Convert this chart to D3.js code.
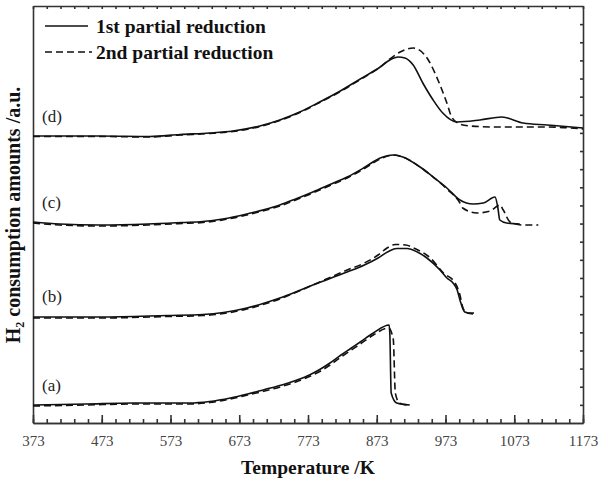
<!DOCTYPE html>
<html lang="en">
<head>
<meta charset="UTF-8">
<title>TPR</title>
<script src="https://d3js.org/d3.v7.min.js"></script>
<style>
    * { margin: 0; padding: 0; }
    body { background: #fff; }
    .axis path, .axis line { stroke: #333; stroke-width: 1.6px; }
    .axis text { font: 15px "Liberation Serif", "Times New Roman", serif; fill: #444; }
    .curve { fill: none; stroke: #111; stroke-width: 1.6px; }
    .dash { stroke-dasharray: 7, 4; }
</style>
</head>
<body>
<script>
    // temperature ticks (K)
    var majorTicks = [373, 473, 573, 673, 773, 873, 973, 1073, 1173];
    var minorTicks = d3.range(373, 1174, 20);

    // [T /K, signal /a.u.]
    var aFirst = [[373, 1.8], [450, 1.9], [518, 2.0], [600, 2.0], [630, 2.15], [660, 2.5], [685, 2.9], [710, 3.35],
        [735, 3.8], [757, 4.3], [775, 4.8], [790, 5.35], [805, 6.0], [820, 6.75], [835, 7.45], [849, 8.1], [868, 9.0],
        [891, 9.8], [892, 9.0], [894, 3.0], [902, 2.0], [921, 1.8]];
    var aSecond = [[373, 1.7], [450, 1.8], [518, 1.9], [600, 1.9], [630, 2.05], [660, 2.4], [685, 2.8], [710, 3.2],
        [735, 3.65], [757, 4.15], [775, 4.65], [790, 5.15], [805, 5.8], [820, 6.55], [835, 7.25], [849, 7.9], [868, 8.8],
        [890, 9.5], [897, 8.4], [900, 3.0], [906, 2.0], [918, 1.8]];

    var bFirst = [[373, 10.6], [470, 10.6], [568, 10.75], [620, 10.85], [650, 11.05], [684, 11.5], [710, 12.0],
        [732, 12.5], [755, 13.1], [780, 13.8], [805, 14.45], [830, 15.1], [855, 15.8], [875, 16.5], [890, 17.15],
        [902, 17.45], [917, 17.45], [932, 17.1], [946, 16.5], [965, 15.3], [975, 14.5], [984, 14.0], [990, 13.3],
        [994, 12.3], [1001, 11.1], [1013, 10.9]];
    var bSecond = [[373, 10.5], [470, 10.5], [568, 10.65], [620, 10.75], [650, 10.95], [684, 11.4], [710, 11.9],
        [732, 12.4], [755, 13.05], [780, 13.8], [805, 14.55], [830, 15.3], [855, 16.0], [875, 16.8], [888, 17.5],
        [900, 17.85], [915, 17.8], [930, 17.4], [951, 16.5], [970, 15.0], [987, 14.0], [994, 12.8], [998, 11.6],
        [1004, 11.0], [1017, 11.0]];

    var cFirst = [[373, 20.1], [412, 19.9], [470, 19.8], [540, 19.9], [590, 20.05], [620, 20.15], [649, 20.4],
        [684, 20.9], [710, 21.35], [732, 21.8], [755, 22.4], [780, 23.1], [805, 23.85], [830, 24.6], [855, 25.55],
        [878, 26.5], [897, 26.8], [911, 26.6], [936, 25.6], [955, 24.6], [975, 23.5], [994, 22.3], [1013, 21.9],
        [1028, 22.0], [1045, 22.6], [1049, 21.6], [1052, 20.3], [1062, 20.0], [1081, 19.9]];
    var cSecond = [[373, 20.0], [412, 19.8], [470, 19.7], [540, 19.8], [590, 19.95], [620, 20.05], [649, 20.3],
        [684, 20.8], [710, 21.25], [732, 21.7], [755, 22.3], [780, 23.0], [805, 23.75], [830, 24.5], [855, 25.45],
        [878, 26.4], [897, 26.8], [911, 26.6], [936, 25.6], [955, 24.6], [975, 23.4], [994, 22.0], [998, 21.5],
        [1019, 21.0], [1038, 21.2], [1052, 21.8], [1057, 21.3], [1067, 20.1], [1086, 19.8], [1108, 19.8]];

    var dFirst = [[373, 28.7], [470, 28.7], [543, 28.65], [587, 28.85], [630, 29.0], [664, 29.2], [703, 29.7], [732, 30.3],
        [761, 31.1], [790, 32.1], [820, 33.2], [849, 34.4], [878, 35.6], [892, 36.3], [904, 36.6], [914, 36.5],
        [926, 35.8], [940, 34.0], [955, 32.3], [969, 31.0], [990, 30.1], [1023, 30.3], [1055, 30.6], [1086, 30.0],
        [1121, 29.8], [1173, 29.5]];
    var dSecond = [[373, 28.65], [470, 28.65], [543, 28.6], [587, 28.8], [630, 28.95], [664, 29.15], [703, 29.65], [732, 30.25],
        [761, 31.05], [790, 32.05], [820, 33.15], [849, 34.35], [878, 35.6], [892, 36.4], [907, 37.1], [926, 37.5],
        [948, 36.3], [962, 34.3], [975, 32.0], [982, 30.6], [994, 29.9], [1009, 29.7], [1048, 29.6], [1121, 29.6],
        [1173, 29.4]];

    var sampleLabels = ["(a)", "(b)", "(c)", "(d)"];
    var labelLevels = [3.2, 12.1, 21.5, 30.1];
    var legendNames = ["1st partial reduction", "2nd partial reduction"];

    var width = 601, height = 479;
    var mLeft = 33, mRight = 583, mTop = 6, mBottom = 423;

    var svg = d3.select("body").append("svg")
        .attr("width", width)
        .attr("height", height);

    var x = d3.scaleLinear().domain([373, 1173]).range([mLeft, mRight]);
    var y = d3.scaleLinear().domain([0, 41.7]).range([mBottom, mTop]);

    // axes: ticks point inwards
    svg.append("g").attr("class", "axis")
        .attr("transform", "translate(0," + mBottom + ")")
        .call(d3.axisBottom(x).tickValues(minorTicks).tickSize(-4).tickSizeOuter(0).tickFormat(""));
    svg.append("g").attr("class", "axis")
        .attr("transform", "translate(0," + mBottom + ")")
        .call(d3.axisBottom(x).tickValues(majorTicks).tickSize(-8).tickSizeOuter(0).tickPadding(12).tickFormat(d3.format("d")));
    svg.append("g").attr("class", "axis")
        .attr("transform", "translate(0," + mTop + ")")
        .call(d3.axisTop(x).tickValues(minorTicks).tickSize(-3).tickSizeOuter(0).tickFormat(""));
    svg.append("g").attr("class", "axis")
        .attr("transform", "translate(" + mRight + ",0)")
        .call(d3.axisRight(y).tickValues(d3.range(1, 23).map(function (k) { return k * 41.7 / 23; }))
            .tickSize(-3).tickSizeOuter(0).tickFormat(""));
    svg.append("g").attr("class", "axis")
        .attr("transform", "translate(" + mLeft + ",0)")
        .call(d3.axisLeft(y).tickValues([]).tickSizeOuter(0));

    var line = d3.line()
        .x(function (d) { return x(d[0]); })
        .y(function (d) { return y(d[1]); })
        .curve(d3.curveMonotoneX);

    [aFirst, bFirst, cFirst, dFirst].forEach(function (s) {
        svg.append("path").datum(s).attr("class", "curve").attr("d", line);
    });
    [aSecond, bSecond, cSecond, dSecond].forEach(function (s) {
        svg.append("path").datum(s).attr("class", "curve dash").attr("d", line);
    });

    // sample labels
    svg.selectAll(".lab")
        .data(sampleLabels)
        .enter()
        .append("text")
        .attr("class", "lab")
        .attr("x", 42)
        .attr("y", function (d, i) { return y(labelLevels[i]); })
        .attr("font-family", "Liberation Serif, serif")
        .attr("font-size", "17px")
        .attr("fill", "#222")
        .text(function (d) { return d; });

    // legend
    var leg = svg.selectAll(".leg")
        .data(legendNames)
        .enter()
        .append("g")
        .attr("class", "leg")
        .attr("transform", function (d, i) { return "translate(45," + (26 + i * 26) + ")"; });
    leg.append("line")
        .attr("x1", 0).attr("x2", function (d, i) { return i ? 47 : 43; })
        .attr("y1", 0).attr("y2", 0)
        .attr("class", function (d, i) { return i ? "curve dash" : "curve"; });
    leg.append("text")
        .attr("x", 51)
        .attr("y", 7)
        .attr("font-family", "Liberation Serif, serif")
        .attr("font-weight", "bold")
        .attr("font-size", "19.5px")
        .attr("fill", "#111")
        .text(function (d) { return d; });

    // axis titles
    svg.append("text")
        .attr("x", 308)
        .attr("y", 474)
        .attr("text-anchor", "middle")
        .attr("font-family", "Liberation Serif, serif")
        .attr("font-weight", "bold")
        .attr("font-size", "19.5px")
        .attr("fill", "#111")
        .text("Temperature /K");

    var yt = svg.append("text")
        .attr("transform", "translate(20,215) rotate(-90)")
        .attr("text-anchor", "middle")
        .attr("font-family", "Liberation Serif, serif")
        .attr("font-weight", "bold")
        .attr("font-size", "20px")
        .attr("fill", "#111");
    yt.append("tspan").text("H");
    yt.append("tspan").attr("font-size", "12px").attr("dy", 4).text("2");
    yt.append("tspan").attr("dy", -4).text(" consumption amounts /a.u.");
</script>
</body>
</html>
